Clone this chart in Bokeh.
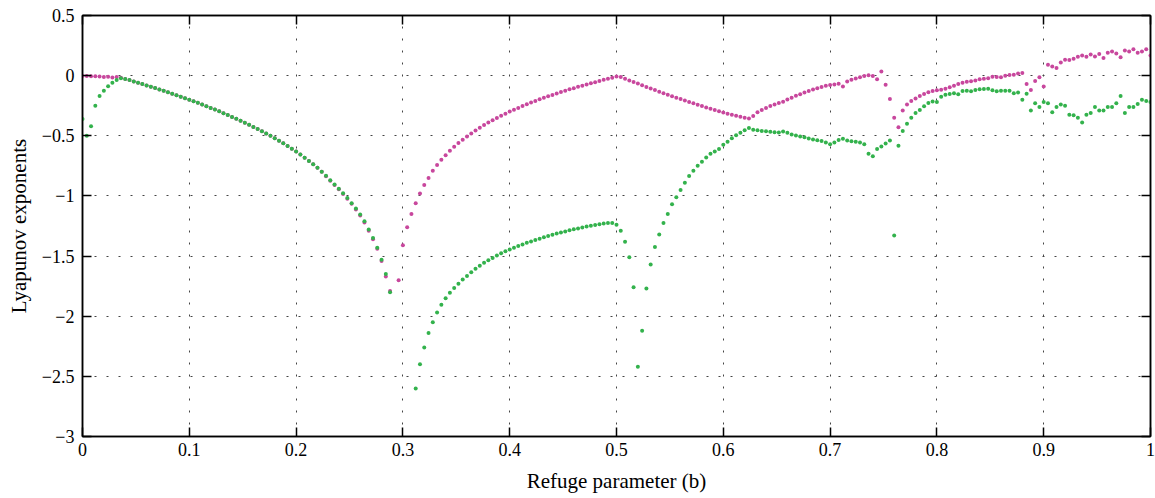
from bokeh.plotting import figure
from bokeh.models import ColumnDataSource, FixedTicker, LinearAxis, CustomJSTickFormatter, Range1d
from bokeh.embed import file_html
from bokeh.resources import INLINE

nan = float("nan")

# refuge parameter sweep (uniform sampling)
b = [round(i * 0.004, 3) for i in range(251)]

# Lyapunov exponent 1 (magenta)
lyap1 = [
    -0.003, -0.004, -0.005, -0.006, -0.008, -0.012, -0.010, -0.015, -0.012, -0.018,
    -0.027, -0.037, -0.048, -0.059, -0.070, -0.081, -0.092, -0.103, -0.115, -0.126,
    -0.138, -0.150, -0.162, -0.175, -0.187, -0.200, -0.213, -0.226, -0.240, -0.254,
    -0.268, -0.282, -0.297, -0.312, -0.327, -0.343, -0.359, -0.375, -0.392, -0.409,
    -0.426, -0.444, -0.462, -0.481, -0.500, -0.520, -0.541, -0.562, -0.584, -0.607,
    -0.631, -0.656, -0.682, -0.709, -0.737, -0.766, -0.800, -0.836, -0.873, -0.909,
    -0.945, -0.983, -1.023, -1.066, -1.112, -1.163, -1.220, -1.290, -1.360, -1.440,
    -1.54, -1.67, -1.79, nan, -1.70, -1.41, -1.26, -1.15, -1.06, -0.98,
    -0.91, -0.85, -0.79, -0.743, -0.70, -0.661, -0.625, -0.592, -0.561, -0.533,
    -0.505, -0.48, -0.456, -0.433, -0.411, -0.39, -0.371, -0.352, -0.334, -0.316,
    -0.299, -0.283, -0.268, -0.253, -0.238, -0.224, -0.211, -0.197, -0.184, -0.172,
    -0.160, -0.148, -0.136, -0.125, -0.114, -0.104, -0.093, -0.083, -0.073, -0.063,
    -0.054, -0.044, -0.035, -0.026, -0.018, -0.008, -0.012, -0.026, -0.040, -0.053,
    -0.066, -0.080, -0.094, -0.107, -0.120, -0.133, -0.146, -0.158, -0.171, -0.183,
    -0.195, -0.207, -0.219, -0.230, -0.242, -0.253, -0.264, -0.275, -0.286, -0.296,
    -0.306, -0.316, -0.325, -0.334, -0.342, -0.350, -0.357, -0.335, -0.305, -0.285,
    -0.268, -0.253, -0.240, -0.227, -0.218, -0.198, -0.184, -0.168, -0.155, -0.141,
    -0.128, -0.115, -0.104, -0.094, -0.085, -0.078, -0.073, -0.068, -0.090, -0.048,
    -0.035, -0.024, -0.014, -0.004, 0.004, -0.004, -0.030, 0.035, -0.075, -0.195,
    -0.35, -0.43, -0.29, -0.24, -0.21, -0.19, -0.17, -0.153, -0.138, -0.127,
    -0.122, -0.118, -0.110, -0.097, -0.083, -0.070, -0.060, -0.050, -0.046, -0.040,
    -0.030, -0.025, -0.021, -0.010, -0.012, -0.014, 0.000, 0.006, 0.008, 0.018,
    0.022, -0.070, -0.120, -0.045, -0.014, -0.090, 0.090, 0.075, 0.064, 0.110,
    0.133, 0.130, 0.140, 0.158, 0.167, 0.158, 0.175, 0.160, 0.180, 0.147,
    0.190, 0.200, 0.185, 0.153, 0.210, 0.200, 0.220, 0.190, 0.200, 0.220,
    0.167,
]

# Lyapunov exponent 2 (green)
lyap2 = [
    -0.36, -0.50, -0.42, -0.25, -0.17, -0.125, -0.088, -0.060, -0.036, -0.022,
    -0.027, -0.037, -0.048, -0.059, -0.070, -0.081, -0.092, -0.103, -0.115, -0.126,
    -0.138, -0.150, -0.162, -0.175, -0.187, -0.200, -0.213, -0.226, -0.240, -0.254,
    -0.268, -0.282, -0.297, -0.312, -0.327, -0.343, -0.359, -0.375, -0.392, -0.409,
    -0.426, -0.444, -0.462, -0.481, -0.500, -0.520, -0.541, -0.562, -0.584, -0.607,
    -0.631, -0.656, -0.682, -0.709, -0.737, -0.766, -0.798, -0.833, -0.870, -0.905,
    -0.940, -0.978, -1.018, -1.060, -1.105, -1.155, -1.210, -1.280, -1.350, -1.430,
    -1.53, -1.65, -1.80, nan, nan, nan, nan, nan, -2.60, -2.40,
    -2.26, -2.14, -2.05, -1.97, -1.905, -1.85, -1.805, -1.765, -1.73, -1.695,
    -1.665, -1.635, -1.605, -1.58, -1.555, -1.535, -1.515, -1.495, -1.477, -1.46,
    -1.445, -1.43, -1.416, -1.403, -1.39, -1.378, -1.366, -1.355, -1.344, -1.333,
    -1.323, -1.313, -1.304, -1.295, -1.286, -1.278, -1.27, -1.262, -1.255, -1.248,
    -1.241, -1.235, -1.229, -1.225, -1.225, -1.24, -1.29, -1.38, -1.51, -1.76,
    -2.42, -2.12, -1.77, -1.57, -1.425, -1.32, -1.225, -1.15, -1.07, -1.01,
    -0.95, -0.89, -0.835, -0.79, -0.75, -0.715, -0.68, -0.65, -0.63, -0.61,
    -0.575, -0.55, -0.52, -0.495, -0.475, -0.455, -0.435, -0.45, -0.455, -0.46,
    -0.463, -0.467, -0.47, -0.473, -0.465, -0.475, -0.49, -0.497, -0.505, -0.513,
    -0.522, -0.53, -0.537, -0.544, -0.555, -0.57, -0.555, -0.535, -0.525, -0.54,
    -0.545, -0.55, -0.555, -0.57, -0.65, -0.67, -0.61, -0.59, -0.565, -0.54,
    -1.33, -0.583, -0.46, -0.40, -0.35, -0.31, -0.285, -0.255, -0.228, -0.215,
    -0.22, -0.175, -0.158, -0.152, -0.147, -0.155, -0.128, -0.125, -0.13, -0.12,
    -0.114, -0.112, -0.11, -0.122, -0.13, -0.125, -0.125, -0.125, -0.147, -0.14,
    -0.20, -0.15, -0.29, -0.23, -0.26, -0.22, -0.23, -0.305, -0.26, -0.24,
    -0.25, -0.325, -0.33, -0.35, -0.39, -0.325, -0.31, -0.26, -0.29, -0.29,
    -0.26, -0.26, -0.23, -0.17, -0.31, -0.26, -0.26, -0.236, -0.20, -0.21,
    -0.22,
]

x_ticks = [0, 0.1, 0.2, 0.3, 0.4, 0.5, 0.6, 0.7, 0.8, 0.9, 1]
y_ticks = [-3, -2.5, -2, -1.5, -1, -0.5, 0, 0.5]

FONT = "Liberation Serif"
MAGENTA = "#c8479d"
GREEN = "#33b24c"

src = ColumnDataSource(dict(b=b, l1=lyap1, l2=lyap2))

p = figure(width=1155, height=498, output_backend="svg", toolbar_location=None,
           x_range=Range1d(0, 1), y_range=Range1d(-3, 0.5),
           min_border_left=82, min_border_right=5, min_border_top=15, min_border_bottom=62,
           background_fill_color="white", border_fill_color="white")

p.outline_line_color = "black"
p.outline_line_width = 1.5
p.outline_line_alpha = 1

fmt = CustomJSTickFormatter(code="return tick < 0 ? '\u2212' + String(-tick) : String(tick);")
blank = CustomJSTickFormatter(code="return '';")

for ax, ticks in ((p.xaxis[0], x_ticks), (p.yaxis[0], y_ticks)):
    ax.ticker = FixedTicker(ticks=ticks)
    ax.formatter = fmt
    ax.major_tick_in = 9
    ax.major_tick_out = 0
    ax.major_tick_line_width = 1.5
    ax.major_tick_line_color = "black"
    ax.minor_tick_line_color = None
    ax.axis_line_color = "black"
    ax.axis_line_width = 1.5
    ax.major_label_text_font = FONT
    ax.major_label_text_font_size = "18px"
    ax.major_label_text_color = "black"
    ax.axis_label_text_font = FONT
    ax.axis_label_text_font_size = "21px"
    ax.axis_label_text_font_style = "normal"
    ax.axis_label_text_color = "black"

p.xaxis.axis_label = "Refuge parameter (b)"
p.yaxis.axis_label = "Lyapunov exponents"
p.xaxis.major_label_standoff = 6
p.yaxis.major_label_standoff = 8
p.xaxis.axis_label_standoff = 10
p.yaxis.axis_label_standoff = 8

for loc, ticks in (("right", y_ticks), ("above", x_ticks)):
    ax = LinearAxis(ticker=FixedTicker(ticks=ticks), formatter=blank,
                    major_tick_in=9, major_tick_out=0, major_tick_line_width=1.5,
                    minor_tick_line_color=None, axis_line_color="black", axis_line_width=1.5,
                    major_label_standoff=0, major_label_text_font_size="1px")
    p.add_layout(ax, loc)

for g, ticks in ((p.xgrid[0], x_ticks), (p.ygrid[0], y_ticks)):
    g.ticker = FixedTicker(ticks=ticks)
    g.grid_line_color = "#444444"
    g.grid_line_dash = "2 10"
    g.grid_line_width = 1

p.scatter("b", "l1", source=src, size=4, fill_color=MAGENTA, line_color=None, marker="circle")
p.scatter("b", "l2", source=src, size=4, fill_color=GREEN, line_color=None, marker="circle")

open("out.html", "w").write(file_html(p, INLINE))
